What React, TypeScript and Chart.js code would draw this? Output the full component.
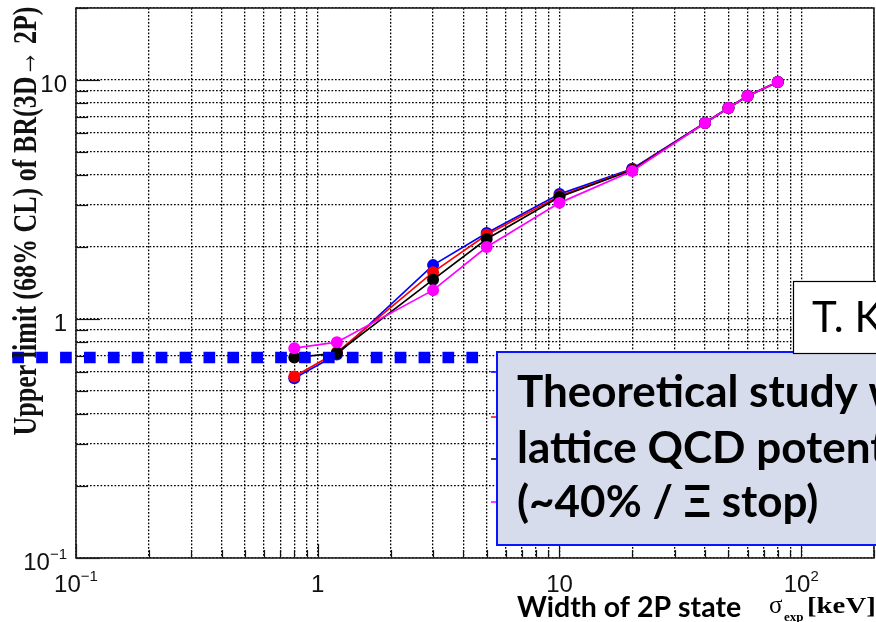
import React, { useEffect, useRef } from 'react';
import { Chart, registerables } from 'chart.js';

Chart.register(...registerables);

// ---- data ----
const widths = [0.8, 1.2, 3, 5, 10, 20, 40, 50, 60, 80];
const blueLimits = [0.565, 0.71, 1.68, 2.29, 3.33, 4.25, 6.62, 7.65, 8.58, 9.8];
const redLimits = [0.575, 0.725, 1.57, 2.25, 3.27, 4.22, 6.61, 7.64, 8.57, 9.8];
const blackLimits = [0.69, 0.72, 1.46, 2.16, 3.24, 4.2, 6.6, 7.63, 8.56, 9.8];
const magentaLimits = [0.755, 0.8, 1.32, 2.0, 3.06, 4.16, 6.61, 7.64, 8.57, 9.8];

const theoryWidths = [0.0545, 5.05];
const theoryLimits = [0.69, 0.69];

const xGridValues = [0.1, 0.2, 0.3, 0.4, 0.5, 0.6, 0.7, 0.8, 0.9, 1, 2, 3, 4, 5, 6, 7, 8, 9, 10, 20, 30, 40, 50, 60, 70, 80, 90, 100, 200];
const yGridValues = [0.1, 0.2, 0.3, 0.4, 0.5, 0.6, 0.7, 0.8, 0.9, 1, 2, 3, 4, 5, 6, 7, 8, 9, 10, 20];
const xMajorValues = [0.1, 1, 10, 100];
const yMajorValues = [0.1, 1, 10];

const xTickValues = [0.1, 1, 10, 100];
const xTickBase = ['10', '1', '10', '10'];
const xTickExp = ['\u22121', '', '', '2'];
const yTickValues = [0.1, 1, 10];
const yTickBase = ['10', '1', '10'];
const yTickExp = ['\u22121', '', ''];

const yTitle = 'Upper limit (68% CL) of BR(3D\u2192 2P)';
const xTitleSans = 'Width of 2P state';
const xTitleSymbol = '\u03c3';
const xTitleSub = 'exp';
const xTitleUnit = '[keV]';
const boxLines = ['Theoretical study with', 'lattice QCD potential', '(~40% / \u039e stop)'];
const refText = 'T. K';

const pts = (xs: number[], ys: number[]) => xs.map((x, i) => ({ x, y: ys[i] }));

const decorPlugin = {
  id: 'decor',
  beforeDatasetsDraw(chart: any) {
    const { ctx, chartArea: a, scales } = chart;
    const xs = scales.x, ys = scales.y;
    ctx.save();
    ctx.strokeStyle = '#111';
    ctx.lineWidth = 1.2;
    // inward tick marks
    yGridValues.forEach((v) => {
      const p = Math.round(ys.getPixelForValue(v)) + 0.5;
      const len = yMajorValues.includes(v) ? 24 : 12;
      ctx.beginPath();
      ctx.moveTo(a.left, p);
      ctx.lineTo(a.left + len, p);
      ctx.stroke();
    });
    xGridValues.forEach((v) => {
      const p = Math.round(xs.getPixelForValue(v)) + 0.5;
      const len = xMajorValues.includes(v) ? 14 : 8;
      ctx.beginPath();
      ctx.moveTo(p, a.bottom);
      ctx.lineTo(p, a.bottom - len);
      ctx.stroke();
    });
    // frame
    ctx.lineWidth = 1.6;
    ctx.strokeStyle = '#222';
    ctx.strokeRect(a.left, a.top, a.right - a.left, a.bottom - a.top);
    ctx.restore();
  },
  afterDraw(chart: any) {
    const { ctx, chartArea: a, scales } = chart;
    const xs = scales.x, ys = scales.y;
    ctx.save();
    ctx.fillStyle = '#111';
    ctx.textBaseline = 'alphabetic';
    const baseFont = '24px "Liberation Sans", Arial, sans-serif';
    const expFont = '15px "Liberation Sans", Arial, sans-serif';
    // x tick labels
    xTickValues.forEach((v, i) => {
      const px = xs.getPixelForValue(v);
      ctx.font = baseFont;
      const wb = ctx.measureText(xTickBase[i]).width;
      ctx.font = expFont;
      const we = xTickExp[i] ? ctx.measureText(xTickExp[i]).width : 0;
      const x0 = px - (wb + we) / 2;
      const by = a.bottom + 34;
      ctx.font = baseFont;
      ctx.textAlign = 'left';
      ctx.fillText(xTickBase[i], x0, by);
      if (xTickExp[i]) {
        ctx.font = expFont;
        ctx.fillText(xTickExp[i], x0 + wb, by - 11);
      }
    });
    // y tick labels
    yTickValues.forEach((v, i) => {
      const py = ys.getPixelForValue(v);
      const right = a.left - 9;
      ctx.font = expFont;
      const we = yTickExp[i] ? ctx.measureText(yTickExp[i]).width : 0;
      ctx.font = baseFont;
      const wb = ctx.measureText(yTickBase[i]).width;
      const by = py + 12;
      ctx.textAlign = 'left';
      ctx.fillText(yTickBase[i], right - we - wb, by);
      if (yTickExp[i]) {
        ctx.font = expFont;
        ctx.fillText(yTickExp[i], right - we, by - 11);
      }
    });
    // y title (ROOT, stretched)
    ctx.save();
    ctx.translate(36, (a.top + a.bottom) / 2 - 62);
    ctx.rotate(-Math.PI / 2);
    ctx.scale(1, 1.3);
    ctx.font = 'bold 26px "Liberation Serif", "Times New Roman", serif';
    ctx.textAlign = 'center';
    ctx.fillText(yTitle, 0, 0);
    ctx.restore();

    // x title: sans part
    ctx.textAlign = 'left';
    ctx.fillStyle = '#000';
    ctx.font = 'bold 28.5px Lato, "Noto Sans", sans-serif';
    ctx.fillText(xTitleSans, 517, 617);
    // x title: ROOT part
    ctx.font = '25px "Liberation Serif", serif';
    ctx.fillText(xTitleSymbol, 769, 613);
    ctx.font = 'bold 13px "Liberation Serif", serif';
    ctx.fillText(xTitleSub, 784, 621);
    ctx.save();
    ctx.translate(807, 613);
    ctx.scale(1.2, 1);
    ctx.font = 'bold 24px "Liberation Serif", serif';
    ctx.fillText(xTitleUnit, 0, 0);
    ctx.restore();

    // legend stubs peeking out from behind the box
    const stubs: [string, number][] = [['#0000ff', 372], ['#ff0000', 417], ['#000000', 459], ['#ff00ff', 502]];
    ctx.lineWidth = 1.5;
    stubs.forEach(([c, y]) => {
      ctx.strokeStyle = c;
      ctx.beginPath();
      ctx.moveTo(491, y);
      ctx.lineTo(499, y);
      ctx.stroke();
    });

    // blue annotation box
    ctx.fillStyle = '#d7dcec';
    ctx.fillRect(497, 352, 400, 193);
    ctx.strokeStyle = '#0a14ff';
    ctx.lineWidth = 2;
    ctx.strokeRect(497, 352, 400, 193);
    ctx.fillStyle = '#000';
    ctx.font = 'bold 44px Lato, "Noto Sans", sans-serif';
    ctx.fillText(boxLines[0], 517, 407);
    ctx.fillText(boxLines[1], 517, 463);
    ctx.fillText(boxLines[2], 517, 517);

    // reference box
    ctx.fillStyle = '#fff';
    ctx.fillRect(793, 281, 120, 73);
    ctx.strokeStyle = '#000';
    ctx.lineWidth = 1.2;
    ctx.strokeRect(793.5, 281.5, 120, 72);
    ctx.fillStyle = '#000';
    ctx.font = '42px Lato, "Noto Sans", sans-serif';
    ctx.fillText(refText, 812, 332);
    ctx.restore();
  },
};

export default function App() {
  const ref = useRef<HTMLCanvasElement | null>(null);
  useEffect(() => {
    if (!ref.current) return;
    const ds = (label: string, ys: number[], color: string, order: number) => ({
      label,
      data: pts(widths, ys),
      showLine: true,
      borderColor: color,
      backgroundColor: color,
      borderWidth: 1.7,
      pointRadius: 6,
      pointBorderWidth: 0,
      pointHoverRadius: 6,
      order,
    });
    const gridCommon = {
      color: '#000',
      lineWidth: 1.3,
      drawTicks: false,
    };
    const chart = new Chart(ref.current, {
      type: 'scatter',
      data: {
        datasets: [
          {
            label: 'theory',
            data: pts(theoryWidths, theoryLimits),
            showLine: true,
            borderColor: '#0000ff',
            borderWidth: 11.5,
            borderDash: [11.7, 12.2],
            borderCapStyle: 'butt',
            pointRadius: 0,
            clip: false,
            order: 0,
          } as any,
          ds('magenta', magentaLimits, '#ff00ff', 1),
          ds('black', blackLimits, '#000000', 2),
          ds('red', redLimits, '#ff0000', 3),
          ds('blue', blueLimits, '#0000ff', 4),
        ],
      },
      options: {
        responsive: false,
        animation: false,
        events: [],
        layout: { padding: { left: 76, top: 8, right: 2, bottom: 64 } },
        plugins: { legend: { display: false }, tooltip: { enabled: false } },
        scales: {
          x: {
            type: 'logarithmic',
            min: 0.1,
            max: 200,
            afterBuildTicks: (s: any) => {
              s.ticks = xGridValues.map((v) => ({ value: v }));
            },
            ticks: { display: false, autoSkip: false },
            grid: gridCommon,
            border: { display: false, dash: [1.7, 1.8] },
          },
          y: {
            type: 'logarithmic',
            min: 0.1,
            max: 20,
            afterBuildTicks: (s: any) => {
              s.ticks = yGridValues.map((v) => ({ value: v }));
            },
            ticks: { display: false, autoSkip: false },
            grid: gridCommon,
            border: { display: false, dash: [1.7, 1.8] },
          },
        },
      } as any,
      plugins: [decorPlugin],
    });
    return () => chart.destroy();
  }, []);
  return (
    <div style={{ position: 'fixed', left: 0, top: 0, width: 876, height: 622, overflow: 'hidden', background: '#fff' }}>
      <canvas ref={ref} width={880} height={622} style={{ display: 'block' }} />
    </div>
  );
}
